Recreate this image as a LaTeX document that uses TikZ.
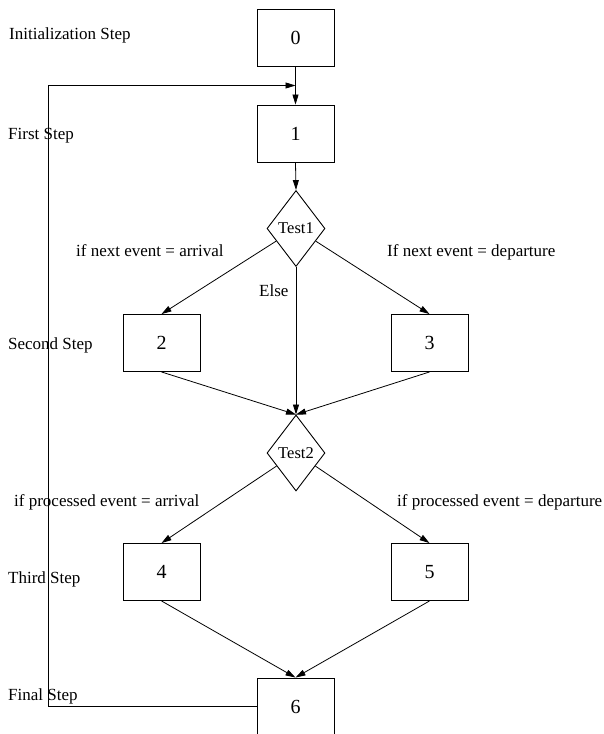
\documentclass[tikz,border=0pt]{standalone}
\usepackage{fontspec}
\setmainfont{Liberation Serif}
\usetikzlibrary{shapes.geometric,arrows.meta,calc}
\begin{document}
\begin{tikzpicture}[x=1pt,y=-1pt,
 box/.style={draw,line width=0.9pt,minimum width=77pt,minimum height=57pt,inner sep=0pt,font=\fontsize{20}{24}\selectfont},
 dia/.style={draw,diamond,line width=0.9pt,minimum width=58pt,minimum height=76pt,inner sep=0pt,font=\fontsize{16.5}{20}\selectfont},
 lbl/.style={anchor=base west,inner sep=0pt,font=\fontsize{17}{20}\selectfont},
 arr/.style={-{Triangle[length=10pt,width=6pt]},line width=0.8pt},
 ln/.style={line width=0.8pt}]
\useasboundingbox[fill=white] (0,0) rectangle (603,734);
\node[box] (n0) at (295.5,37.5) {0};
\node[box] (n1) at (295.5,133.5) {1};
\node[dia] (t1) at (296,228.5) {Test1};
\node[box] (n2) at (161.5,343) {2};
\node[box] (n3) at (429.5,343) {3};
\node[dia] (t2) at (296,453) {Test2};
\node[box] (n4) at (161.5,572) {4};
\node[box] (n5) at (429.5,572) {5};
\node[box] (n6) at (295.5,706.5) {6};
\coordinate (m) at ($(n0.south)!0.5!(n1.north)$);
\coordinate (lc) at (48,0);
% labels
\node[lbl] (l0) at (9,39) {Initialization Step};
\node[lbl] (l1) at (8,139) {First Step};
\node[lbl] (l2) at (8,349) {Second Step};
\node[lbl] (l3) at (8,583) {Third Step};
\node[lbl] (l4) at (8,700) {Final Step};
\node[lbl] (a1) at (76,256) {if next event = arrival};
\node[lbl] (a2) at (387,256) {If next event = departure};
\node[lbl] (a3) at (259,296) {Else};
\node[lbl] (a4) at (14,506) {if processed event = arrival};
\node[lbl] (a5) at (397,506) {if processed event = departure};
% connectors
\draw[arr] (n0.south) -- (n1.north);
\draw[arr] (n6.west) -- (n6.west -| lc) |- (m);
\draw[arr] (n1.south) -- (t1.north);
\draw[arr] (t1) -- (n2.north);
\draw[arr] (t1) -- (n3.north);
\draw[arr] (t1.south) -- (t2.north);
\draw[arr] (n2.south) -- (t2.north);
\draw[arr] (n3.south) -- (t2.north);
\draw[arr] (t2) -- (n4.north);
\draw[arr] (t2) -- (n5.north);
\draw[arr] (n4.south) -- (n6.north);
\draw[arr] (n5.south) -- (n6.north);
\end{tikzpicture}
\end{document}
